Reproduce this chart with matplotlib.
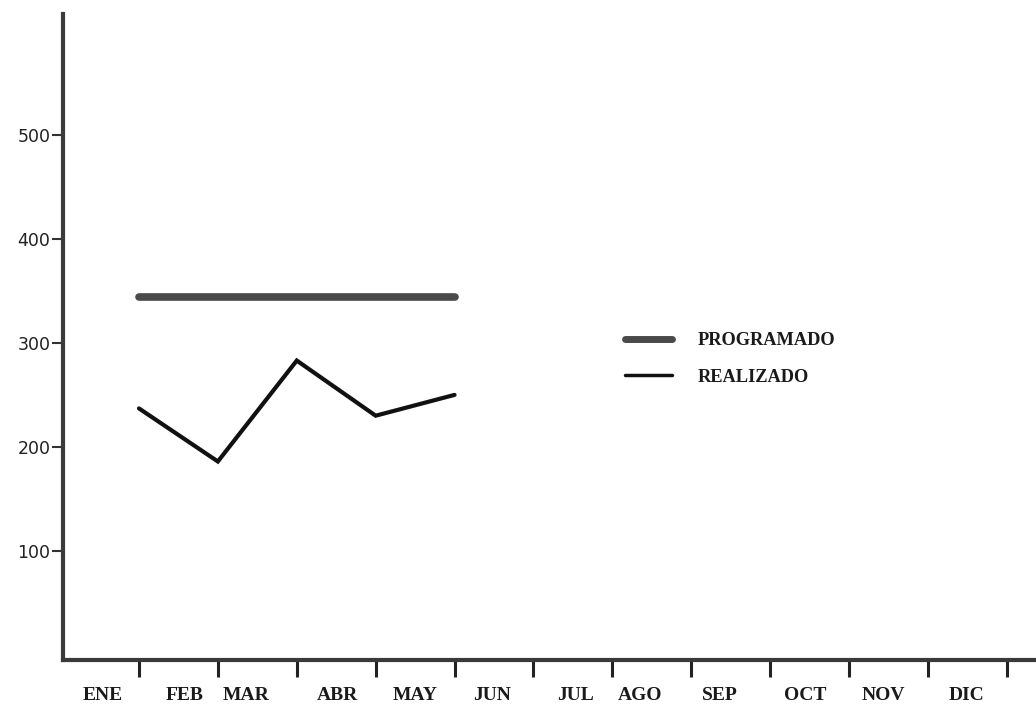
import matplotlib
matplotlib.use("Agg")
import matplotlib.pyplot as plt

# ---- data ----
months = ["ENE", "FEB", "MAR", "ABR", "MAY", "JUN", "JUL", "AGO", "SEP", "OCT", "NOV", "DIC"]
tick_months = [1, 2, 3, 4, 5, 6, 7, 8, 9, 10, 11, 12]
prog_x = [1, 2, 3, 4, 5]
programado = [344, 344, 344, 344, 344]
real_x = [1, 2, 3, 4, 5]
realizado = [237, 186, 283, 230, 250]
y_ticks = [100, 200, 300, 400, 500]
y_labels = ["100", "200", "300", "400", "500"]
series_names = ["PROGRAMADO", "REALIZADO"]

# ---- layout ----
label_pos = [0.54, 1.58, 2.36, 3.51, 4.50, 5.47, 6.53, 7.35, 8.36, 9.44, 10.44, 11.49]

fig = plt.figure(figsize=(10.36, 7.13), dpi=100)
ax = fig.add_axes([0.0608, 0.0743, 0.9392, 0.9060])
ax.set_xlim(0.037, 12.37)
ax.set_ylim(-4.8, 616)

serif = ["Liberation Serif", "DejaVu Serif"]

l1, = ax.plot(prog_x, programado, color="#4a4a4a", lw=5.5, solid_capstyle="round")
l2, = ax.plot(real_x, realizado, color="#111111", lw=3, solid_capstyle="round", solid_joinstyle="miter")

for s in ["top", "right"]:
    ax.spines[s].set_visible(False)
for s in ["left", "bottom"]:
    ax.spines[s].set_color("#3a3a3a")
    ax.spines[s].set_linewidth(3)

ax.set_xticks(tick_months)
ax.set_xticklabels([])
ax.tick_params(axis="x", direction="out", length=12, width=2.2, color="#222222")

ax.set_yticks(y_ticks)
ax.set_yticklabels(y_labels, fontsize=12.5, family="DejaVu Sans", color="#222222")
ax.tick_params(axis="y", direction="out", length=8, width=1.5, color="#333333", pad=1)

trans = ax.get_xaxis_transform()
for name, xp in zip(months, label_pos):
    ax.text(xp, -0.055, name, transform=trans, ha="center", va="center",
            fontsize=14, fontweight="bold", family=serif, color="#1a1a1a")

leg = ax.legend([l1, l2], series_names, loc="center left",
                bbox_to_anchor=(0.603, 0.4965), bbox_transform=fig.transFigure,
                frameon=False, borderpad=0, borderaxespad=0,
                handlelength=2.6, handletextpad=1.4, labelspacing=1.05,
                prop={"family": serif, "weight": "bold", "size": 13.2})
for t in leg.get_texts():
    t.set_color("#1a1a1a")
leg.get_lines()[0].set_linewidth(5)
leg.get_lines()[1].set_linewidth(2.5)

fig.savefig("out.png", dpi=100)
